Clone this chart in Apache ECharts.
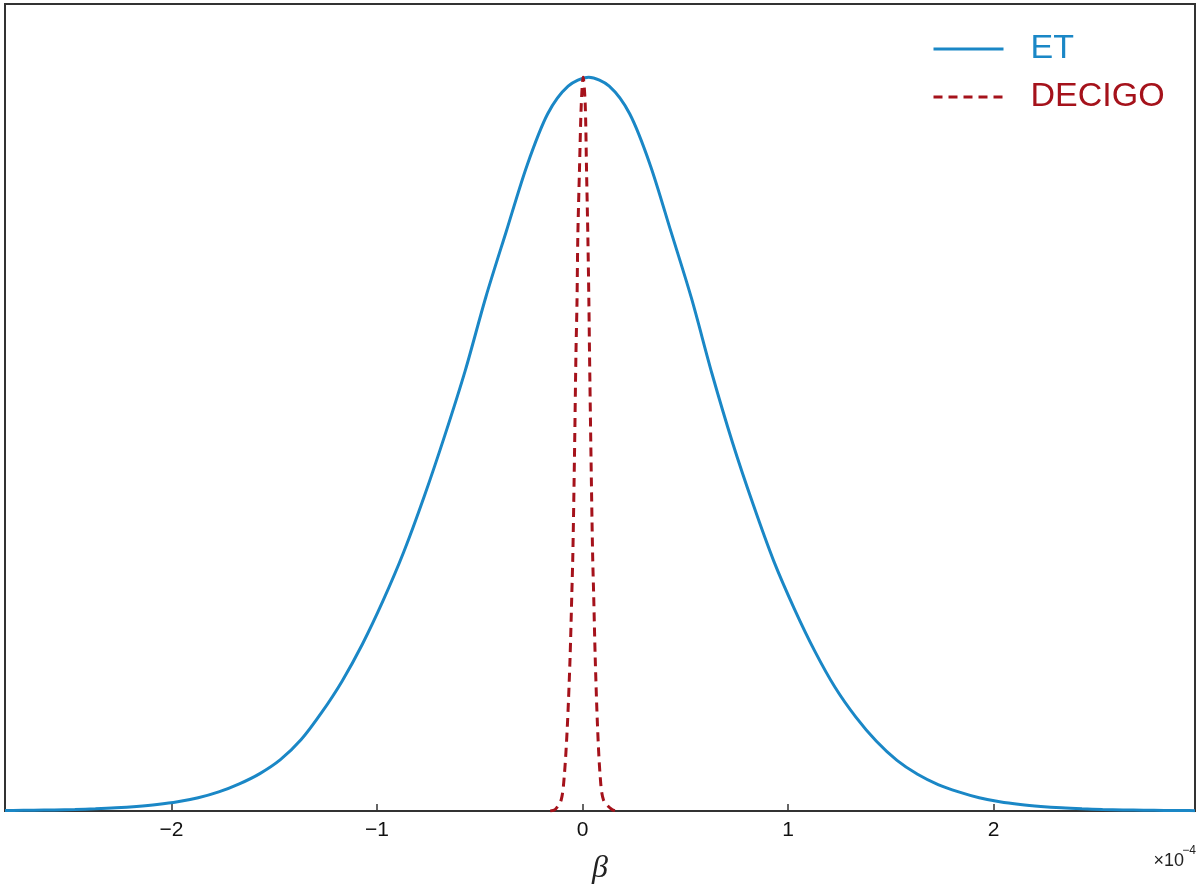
<!DOCTYPE html>
<html>
<head>
<meta charset="utf-8">
<title>ET vs DECIGO</title>
<script src="https://cdn.jsdelivr.net/npm/echarts@6/dist/echarts.min.js"></script>
<style>
  html, body { margin: 0; padding: 0; background: #fff; }
  #chart { width: 1200px; height: 892px; }
</style>
</head>
<body>
<div id="chart"></div>
<script>
// beta in units of 1e-4, density normalised to peak = 1
var etBeta = [
  -2.81, -2.77, -2.67, -2.57, -2.47, -2.37, -2.27, -2.17, -2.07, -1.97,
  -1.87, -1.77, -1.67, -1.57, -1.47, -1.37, -1.27, -1.17, -1.07, -0.97,
  -0.87, -0.77, -0.67, -0.57, -0.47, -0.37, -0.27, -0.17, -0.07, 0.03,
  0.13, 0.23, 0.33, 0.43, 0.53, 0.63, 0.73, 0.83, 0.93, 1.03,
  1.13, 1.23, 1.33, 1.43, 1.53, 1.63, 1.73, 1.83, 1.93, 2.03,
  2.13, 2.23, 2.33, 2.43, 2.53, 2.63, 2.73, 2.83, 2.93, 2.98
];
var etDensity = [
  0.0007, 0.0008, 0.0011, 0.0015, 0.0021, 0.0030, 0.0043, 0.0062, 0.0088, 0.0125,
  0.018, 0.026, 0.037, 0.051, 0.070, 0.097, 0.134, 0.177, 0.228, 0.287,
  0.353, 0.429, 0.512, 0.601, 0.701, 0.791, 0.880, 0.950, 0.988, 1.0,
  0.988, 0.950, 0.880, 0.790, 0.699, 0.596, 0.502, 0.418, 0.341, 0.276,
  0.218, 0.168, 0.128, 0.095, 0.069, 0.050, 0.036, 0.026, 0.018, 0.0125,
  0.0088, 0.0062, 0.0043, 0.0030, 0.0021, 0.0015, 0.0011, 0.0008, 0.0006, 0.0005
];

var decigoBeta = [-0.157, -0.133, -0.104, -0.089, -0.074, -0.061, -0.052, -0.047, -0.039, -0.032, -0.027, -0.023, -0.015, -0.006, 0.003, 0.013, 0.0195, 0.026, 0.031, 0.034, 0.041, 0.049, 0.054, 0.062, 0.073, 0.086, 0.102, 0.143, 0.167];
var decigoDensity = [0.0, 0.002, 0.015, 0.047, 0.115, 0.206, 0.297, 0.351, 0.487, 0.624, 0.692, 0.782, 0.873, 0.964, 1.0, 0.964, 0.873, 0.782, 0.692, 0.624, 0.487, 0.351, 0.297, 0.206, 0.115, 0.047, 0.015, 0.002, 0.0];

var xTicks = [-2, -1, 0, 1, 2];

var etColor = '#1a87c6';
var decigoColor = '#a5121b';

function pairs(xs, ys) {
  return xs.map(function (x, i) { return [x, ys[i]]; });
}

var chart = echarts.init(document.getElementById('chart'));

var option = {
  animation: false,
  grid: {
    left: 5, right: 5, top: 4, bottom: 81,
    show: true,
    borderColor: '#333',
    borderWidth: 2,
    backgroundColor: '#fff'
  },
  legend: {
    orient: 'vertical',
    left: 927,
    top: 27,
    itemWidth: 70,
    itemHeight: 14,
    itemGap: 14,
    itemStyle: { opacity: 0 },
    lineStyle: { width: 3 },
    textStyle: {
      fontFamily: 'Liberation Sans',
      fontSize: 34,
      lineHeight: 34,
      padding: [0, 0, 0, 22]
    },
    data: [
      { name: 'ET', textStyle: { color: etColor } },
      { name: 'DECIGO', textStyle: { color: decigoColor } }
    ]
  },
  xAxis: {
    type: 'value',
    min: -2.81,
    max: 2.98,
    name: 'β',
    nameLocation: 'middle',
    nameGap: 42,
    nameTextStyle: {
      fontFamily: 'Liberation Serif',
      fontStyle: 'italic',
      fontSize: 32,
      color: '#222'
    },
    axisLine: { show: true, lineStyle: { color: '#333', width: 2 } },
    axisTick: {
      show: true,
      inside: true,
      length: 7,
      customValues: xTicks,
      lineStyle: { color: '#333', width: 1.5 }
    },
    axisLabel: {
      customValues: xTicks,
      margin: 9,
      fontFamily: 'Liberation Sans',
      fontSize: 21,
      color: '#111',
      formatter: function (v) { return v < 0 ? '\u2212' + Math.abs(v) : String(v); }
    },
    splitLine: { show: false }
  },
  yAxis: {
    type: 'value',
    min: 0,
    max: 1.1,
    axisLine: { show: false },
    axisTick: { show: false },
    axisLabel: { show: false },
    splitLine: { show: false }
  },
  graphic: [
    {
      type: 'text',
      right: 16,
      top: 852,
      style: { text: '\u00d710', fontFamily: 'Liberation Sans', fontSize: 18, fill: '#222' }
    },
    {
      type: 'text',
      right: 4,
      top: 845,
      style: { text: '\u22124', fontFamily: 'Liberation Sans', fontSize: 12, fill: '#222' }
    }
  ],
  series: [
    {
      name: 'ET',
      type: 'line',
      data: pairs(etBeta, etDensity),
      showSymbol: false,
      symbol: 'none',
      smooth: 0.3,
      lineStyle: { color: etColor, width: 3 },
      itemStyle: { color: etColor },
      z: 2
    },
    {
      name: 'DECIGO',
      type: 'line',
      data: pairs(decigoBeta, decigoDensity),
      showSymbol: false,
      symbol: 'none',
      smooth: 0.3,
      lineStyle: { color: decigoColor, width: 3, type: [9, 6] },
      itemStyle: { color: decigoColor },
      z: 3
    }
  ]
};

chart.setOption(option);
</script>
</body>
</html>
